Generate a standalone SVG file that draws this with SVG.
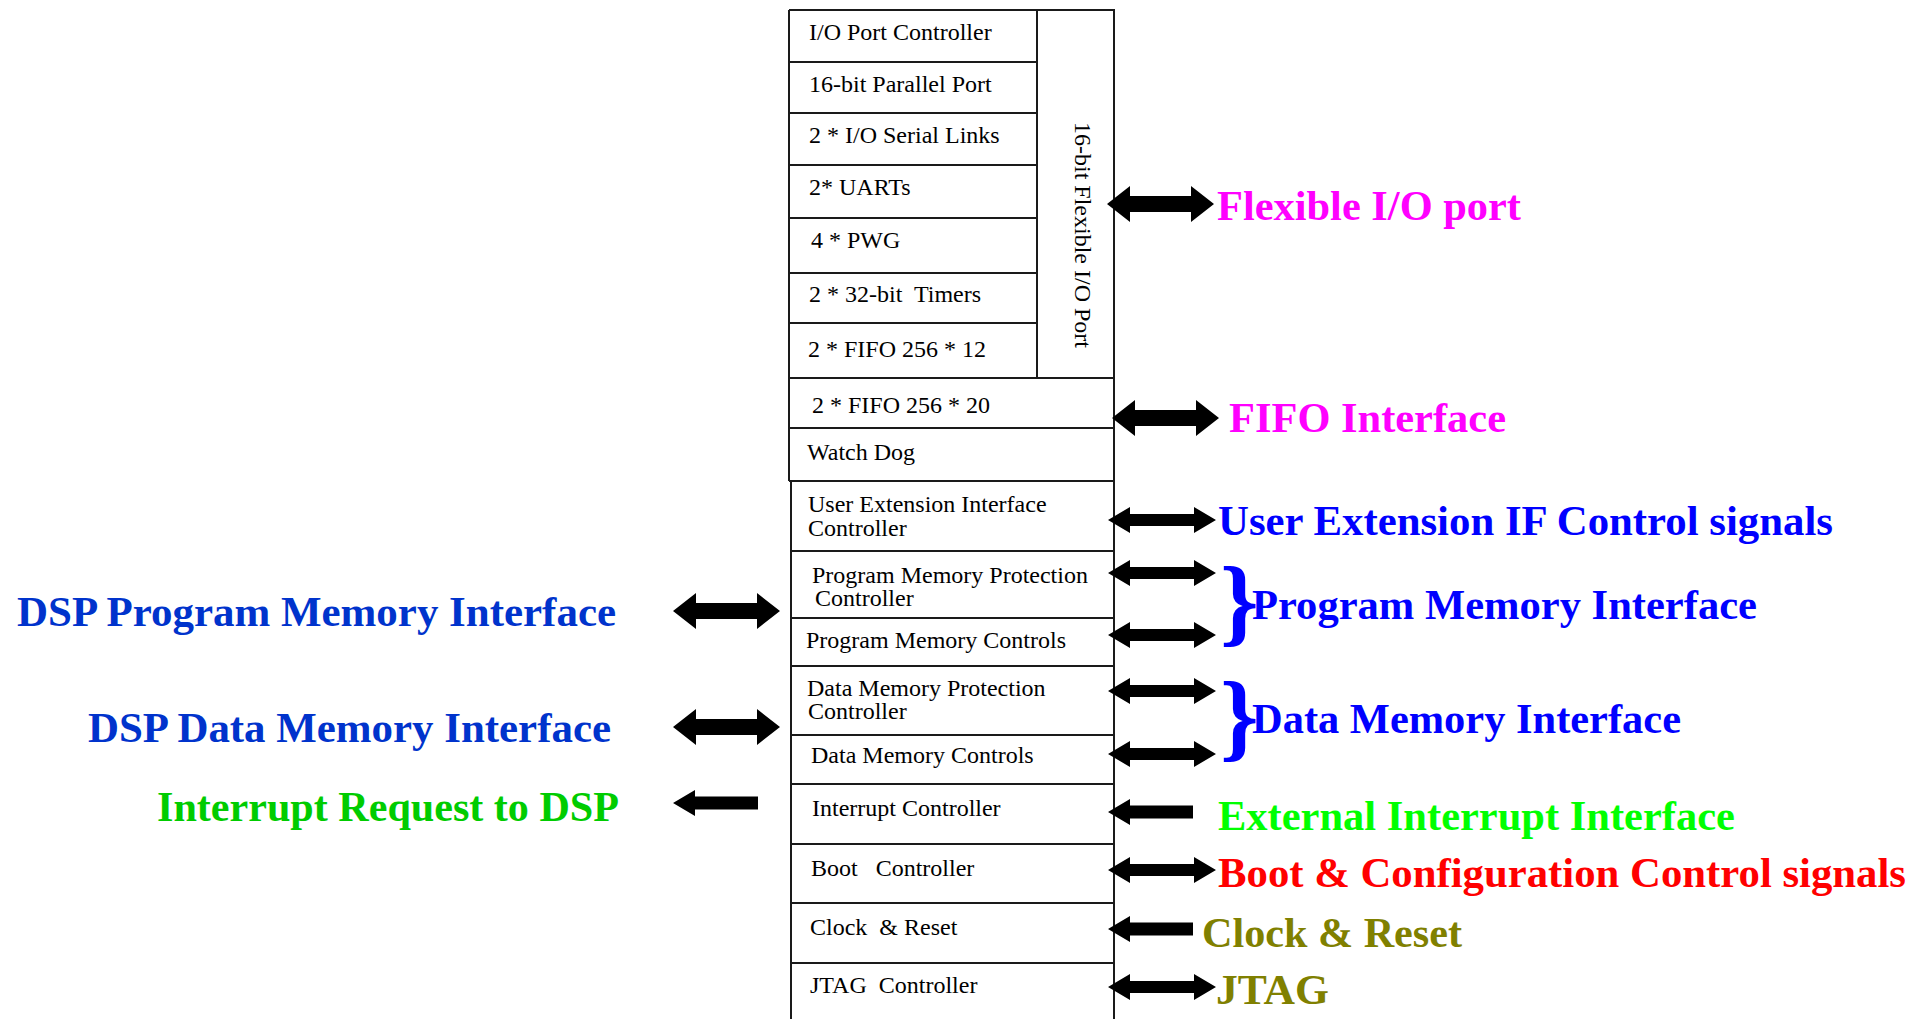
<svg xmlns="http://www.w3.org/2000/svg" width="1919" height="1019" viewBox="0 0 1919 1019">
<style>
.ln{stroke:#1a1a1a;stroke-width:2;fill:none}
.bx{font-family:"Liberation Serif","Times New Roman",serif;font-size:24px;fill:#000;white-space:pre}
.lb{font-family:"Liberation Serif","Times New Roman",serif;font-size:43px;font-weight:bold;white-space:pre}
.br{font-family:"Liberation Serif","Times New Roman",serif;font-size:98px;font-weight:bold;fill:#0000FF}
.ar{fill:#000}
.mag{fill:#FF00FF}.blu{fill:#0000FF}.dblu{fill:#0033CC}.grn{fill:#00FF00}.dgrn{fill:#00CC00}.red{fill:#FF0000}.olv{fill:#808000}
</style>
<defs>
<path id="bigDbl" d="M0,0 L23,-18 L23,-8 L84,-8 L84,-18 L107,0 L84,18 L84,8 L23,8 L23,18 Z"/>
<path id="smDbl" d="M0,0 L22,-13 L22,-6 L86,-6 L86,-13 L108,0 L86,13 L86,6 L22,6 L22,13 Z"/>
<path id="smLeft" d="M0,0 L22,-13 L22,-6.5 L85,-6.5 L85,6.5 L22,6.5 L22,13 Z"/>
</defs>
<rect width="1919" height="1019" fill="#fff"/>

<g id="block-frame">
<path class="ln" d="M789,10 H1114 V481 M789,10 V481 M1037,10 V378 M789,378 H1114 M789,428 H1114 M789,481 H1114 M791,481 V1019 M1114,481 V1019"/>
</g>

<g id="io-port-controller"><path class="ln" d="M789,62 H1037"/><text class="bx" x="809" y="40">I/O Port Controller</text></g>
<g id="parallel-port"><path class="ln" d="M789,113 H1037"/><text class="bx" x="809" y="92">16-bit Parallel Port</text></g>
<g id="serial-links"><path class="ln" d="M789,165 H1037"/><text class="bx" x="809" y="143">2 * I/O Serial Links</text></g>
<g id="uarts"><path class="ln" d="M789,218 H1037"/><text class="bx" x="809" y="195">2* UARTs</text></g>
<g id="pwg"><path class="ln" d="M789,273 H1037"/><text class="bx" x="811" y="248">4 * PWG</text></g>
<g id="timers"><path class="ln" d="M789,323 H1037"/><text class="bx" x="809" y="302">2 * 32-bit  Timers</text></g>
<g id="fifo12"><text class="bx" x="808" y="357">2 * FIFO 256 * 12</text></g>
<g id="flexible-io-port"><text class="bx" transform="translate(1075,235) rotate(90)" text-anchor="middle" x="0" y="0">16-bit Flexible I/O Port</text></g>
<g id="fifo20"><text class="bx" x="812" y="413">2 * FIFO 256 * 20</text></g>
<g id="watchdog"><text class="bx" x="807" y="460">Watch Dog</text></g>
<g id="user-ext-ctrl"><path class="ln" d="M791,551 H1114"/><text class="bx" x="808" y="512">User Extension Interface</text><text class="bx" x="808" y="536">Controller</text></g>
<g id="pm-protection"><path class="ln" d="M791,618 H1114"/><text class="bx" x="812" y="583">Program Memory Protection</text><text class="bx" x="815" y="606">Controller</text></g>
<g id="pm-controls"><path class="ln" d="M791,666 H1114"/><text class="bx" x="806" y="648">Program Memory Controls</text></g>
<g id="dm-protection"><path class="ln" d="M791,735 H1114"/><text class="bx" x="807" y="696">Data Memory Protection</text><text class="bx" x="808" y="719">Controller</text></g>
<g id="dm-controls"><path class="ln" d="M791,784 H1114"/><text class="bx" x="811" y="763">Data Memory Controls</text></g>
<g id="interrupt-ctrl"><path class="ln" d="M791,844 H1114"/><text class="bx" x="812" y="816">Interrupt Controller</text></g>
<g id="boot-ctrl"><path class="ln" d="M791,903 H1114"/><text class="bx" x="811" y="876">Boot   Controller</text></g>
<g id="clock-reset"><path class="ln" d="M791,963 H1114"/><text class="bx" x="810" y="935">Clock  &amp; Reset</text></g>
<g id="jtag-ctrl"><text class="bx" x="810" y="993">JTAG  Controller</text></g>

<g id="lbl-flexible"><text class="lb mag" x="1217" y="220" textLength="304" lengthAdjust="spacingAndGlyphs">Flexible I/O port</text></g>
<g id="lbl-fifo"><text class="lb mag" x="1229" y="432" textLength="277" lengthAdjust="spacingAndGlyphs">FIFO Interface</text></g>
<g id="lbl-user-ext"><text class="lb blu" x="1218" y="535" textLength="615" lengthAdjust="spacingAndGlyphs">User Extension IF Control signals</text></g>
<g id="lbl-prog-mem"><text class="br" x="1220" y="634">}</text><text class="lb blu" x="1252" y="619" textLength="505" lengthAdjust="spacingAndGlyphs">Program Memory Interface</text></g>
<g id="lbl-data-mem"><text class="br" x="1220" y="749">}</text><text class="lb blu" x="1252" y="733" textLength="429" lengthAdjust="spacingAndGlyphs">Data Memory Interface</text></g>
<g id="lbl-ext-int"><text class="lb grn" x="1218" y="830" textLength="517" lengthAdjust="spacingAndGlyphs">External Interrupt Interface</text></g>
<g id="lbl-boot"><text class="lb red" x="1218" y="887" textLength="688" lengthAdjust="spacingAndGlyphs">Boot &amp; Configuration Control signals</text></g>
<g id="lbl-clock"><text class="lb olv" x="1202" y="947" textLength="260" lengthAdjust="spacingAndGlyphs">Clock &amp; Reset</text></g>
<g id="lbl-jtag"><text class="lb olv" x="1216" y="1004" textLength="113" lengthAdjust="spacingAndGlyphs">JTAG</text></g>
<g id="lbl-dsp-prog"><text class="lb dblu" x="17" y="626" textLength="599" lengthAdjust="spacingAndGlyphs">DSP Program Memory Interface</text></g>
<g id="lbl-dsp-data"><text class="lb dblu" x="88" y="742" textLength="523" lengthAdjust="spacingAndGlyphs">DSP Data Memory Interface</text></g>
<g id="lbl-irq"><text class="lb dgrn" x="157" y="821" textLength="462" lengthAdjust="spacingAndGlyphs">Interrupt Request to DSP</text></g>

<g id="connectors" class="ar">
<use href="#bigDbl" x="1107" y="204"/>
<use href="#bigDbl" x="1112" y="418"/>
<use href="#smDbl" x="1108" y="520"/>
<use href="#smDbl" x="1108" y="573"/>
<use href="#smDbl" x="1108" y="635"/>
<use href="#smDbl" x="1108" y="691"/>
<use href="#smDbl" x="1108" y="754"/>
<use href="#smLeft" x="1108" y="812"/>
<use href="#smDbl" x="1108" y="870"/>
<use href="#smLeft" x="1108" y="929"/>
<use href="#smDbl" x="1108" y="987"/>
<use href="#bigDbl" x="673" y="611"/>
<use href="#bigDbl" x="673" y="727"/>
<use href="#smLeft" x="673" y="803"/>
</g>
</svg>
